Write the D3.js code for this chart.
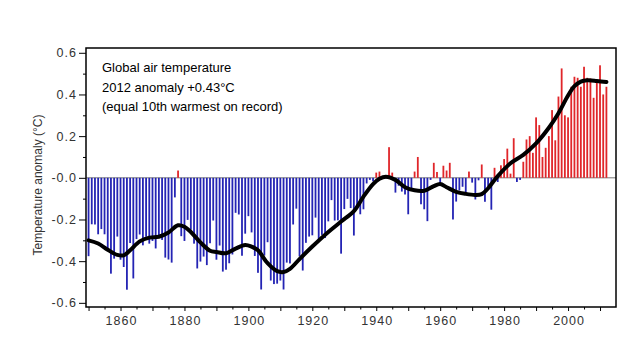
<!DOCTYPE html>
<html>
<head>
<meta charset="utf-8">
<script src="https://cdnjs.cloudflare.com/ajax/libs/d3/7.8.5/d3.min.js"></script>
<style>
  html, body { margin: 0; padding: 0; background: #fff; }
  svg { display: block; font-family: "Liberation Sans", Arial, sans-serif; }
</style>
</head>
<body>
<svg id="chart" width="630" height="337"></svg>
<script>
// annual anomalies, 1850 onwards (deg C)
var firstYear = 1850;
var anomalies = [
  -0.376, -0.223, -0.224, -0.271, -0.246, -0.271, -0.352, -0.460, -0.388, -0.282,
  -0.393, -0.428, -0.537, -0.313, -0.483, -0.294, -0.272, -0.324, -0.283, -0.316,
  -0.303, -0.339, -0.282, -0.298, -0.383, -0.392, -0.407, -0.094, 0.035, -0.280,
  -0.303, -0.202, -0.249, -0.316, -0.435, -0.402, -0.378, -0.419, -0.314, -0.205,
  -0.393, -0.325, -0.450, -0.441, -0.410, -0.368, -0.168, -0.176, -0.374, -0.268,
  -0.184, -0.262, -0.375, -0.456, -0.536, -0.373, -0.309, -0.493, -0.510, -0.508,
  -0.493, -0.536, -0.407, -0.411, -0.224, -0.148, -0.377, -0.445, -0.312, -0.282,
  -0.276, -0.191, -0.294, -0.274, -0.289, -0.209, -0.107, -0.205, -0.204, -0.364,
  -0.150, -0.101, -0.145, -0.277, -0.132, -0.175, -0.151, -0.027, -0.010, -0.017,
  0.025, 0.030, -0.004, -0.003, 0.147, 0.025, -0.071, -0.038, -0.066, -0.080,
  -0.175, -0.060, 0.030, 0.100, -0.127, -0.151, -0.208, -0.010, 0.072, 0.028,
  -0.025, 0.058, 0.035, 0.072, -0.200, -0.114, -0.061, -0.043, -0.072, 0.030,
  -0.023, -0.104, -0.012, 0.064, -0.115, -0.039, -0.153, 0.048, -0.020, 0.060,
  0.090, 0.140, 0.020, 0.190, -0.020, -0.010, 0.077, 0.184, 0.200, 0.120,
  0.290, 0.253, 0.100, 0.144, 0.200, 0.325, 0.180, 0.390, 0.525, 0.300,
  0.290, 0.437, 0.485, 0.480, 0.437, 0.533, 0.480, 0.477, 0.384, 0.460,
  0.540, 0.400, 0.437
];
var years = anomalies.map(function (d, i) { return firstYear + i; });

// smoothed curve
var smoothYears = [1850, 1853, 1856, 1859, 1861, 1863, 1866, 1869, 1872, 1875, 1878, 1880,
  1882, 1885, 1888, 1890, 1893, 1896, 1899, 1901, 1903, 1906, 1909, 1911, 1913, 1916,
  1920, 1925, 1929, 1933, 1936, 1939, 1941, 1943, 1946, 1949, 1952, 1955, 1958, 1960,
  1962, 1965, 1968, 1971, 1973, 1975, 1977, 1979, 1982, 1986, 1990, 1994, 1997,
  2000, 2002, 2004, 2006, 2009, 2012];
var smoothValues = [-0.30, -0.315, -0.345, -0.37, -0.372, -0.348, -0.305, -0.287, -0.283, -0.262, -0.228, -0.235,
  -0.26, -0.31, -0.35, -0.356, -0.362, -0.34, -0.322, -0.33, -0.348, -0.41, -0.448, -0.452, -0.437, -0.39,
  -0.33, -0.26, -0.21, -0.16, -0.09, -0.03, -0.005, 0.005, -0.01, -0.045, -0.06, -0.062, -0.04, -0.03,
  -0.045, -0.067, -0.077, -0.082, -0.078, -0.05, -0.01, 0.025, 0.07, 0.11, 0.165, 0.24, 0.31,
  0.395, 0.44, 0.462, 0.468, 0.465, 0.46];

var yTicks = [0.6, 0.4, 0.2, 0, -0.2, -0.4, -0.6];
var yTickLabels = ["0.6", "0.4", "0.2", "-0.0", "-0.2", "-0.4", "-0.6"];
var xTicks = [1860, 1880, 1900, 1920, 1940, 1960, 1980, 2000];

var titleLines = [
  "Global air temperature",
  "2012 anomaly +0.43\u00B0C",
  "(equal 10th warmest on record)"
];

var svg = d3.select("#chart");

var plotLeft = 86, plotRight = 616, plotTop = 48, plotBottom = 307;

var x = d3.scaleLinear()
  .domain([1849.2, 2015])
  .range([plotLeft, plotRight]);

var y = d3.scaleLinear()
  .domain([-0.62, 0.623])
  .range([plotBottom, plotTop]);

// zero line
svg.append("line")
  .attr("x1", plotLeft).attr("x2", plotRight)
  .attr("y1", y(0)).attr("y2", y(0))
  .attr("stroke", "#777")
  .attr("stroke-width", 1);

// bars
svg.append("g")
  .selectAll("rect")
  .data(anomalies)
  .join("rect")
  .attr("x", function (d, i) { return x(years[i]) - 0.9; })
  .attr("width", 1.8)
  .attr("y", function (d) { return d > 0 ? y(d) : y(0); })
  .attr("height", function (d) { return Math.abs(y(d) - y(0)); })
  .attr("fill", function (d) { return d > 0 ? "#e0262a" : "#2424b4"; });

// smoothed line
var smoothLine = d3.line()
  .x(function (d, i) { return x(smoothYears[i]); })
  .y(function (d) { return y(d); })
  .curve(d3.curveCatmullRom.alpha(0.5));

svg.append("path")
  .datum(smoothValues)
  .attr("d", smoothLine)
  .attr("fill", "none")
  .attr("stroke", "#000")
  .attr("stroke-width", 4)
  .attr("stroke-linecap", "round")
  .attr("stroke-linejoin", "round");

// frame
svg.append("rect")
  .attr("x", plotLeft).attr("y", plotTop)
  .attr("width", plotRight - plotLeft).attr("height", plotBottom - plotTop)
  .attr("fill", "none")
  .attr("stroke", "#000")
  .attr("stroke-width", 1.5);

function styleLabels(g) {
  g.selectAll("text")
    .attr("font-size", 12.5)
    .attr("letter-spacing", 1)
    .attr("fill", "#333")
    .attr("font-family", "Liberation Sans, Arial, sans-serif");
}

// y axis
var yAxis = d3.axisLeft(y)
  .tickValues(yTicks)
  .tickSize(7)
  .tickPadding(2)
  .tickFormat(function (d, i) { return yTickLabels[i]; });

var yMinor = d3.axisLeft(y)
  .tickValues([0.5, 0.3, 0.1, -0.1, -0.3, -0.5])
  .tickSize(3)
  .tickFormat("");

svg.append("g")
  .attr("transform", "translate(" + plotLeft + ",0)")
  .call(yMinor)
  .call(function (g) { g.select(".domain").remove(); });

svg.append("g")
  .attr("transform", "translate(" + plotLeft + ",0)")
  .call(yAxis)
  .call(function (g) { g.select(".domain").remove(); })
  .call(styleLabels);

// x axis
var xAxis = d3.axisBottom(x)
  .tickValues(xTicks)
  .tickSize(4)
  .tickPadding(5)
  .tickFormat(d3.format("d"));

var xMinor = d3.axisBottom(x)
  .tickValues([1855, 1865, 1875, 1885, 1895, 1905, 1915, 1925, 1935, 1945, 1955, 1965, 1975, 1985, 1995, 2005])
  .tickSize(2.5)
  .tickFormat("");

var xMid = d3.axisBottom(x)
  .tickValues([1850, 1870, 1890, 1910, 1930, 1950, 1970, 1990, 2010])
  .tickSize(4)
  .tickFormat("");

[xMinor, xMid].forEach(function (ax) {
  svg.append("g")
    .attr("transform", "translate(0," + plotBottom + ")")
    .call(ax)
    .call(function (g) { g.select(".domain").remove(); });
});

svg.append("g")
  .attr("transform", "translate(0," + plotBottom + ")")
  .call(xAxis)
  .call(function (g) { g.select(".domain").remove(); })
  .call(styleLabels)
  .call(function (g) { g.selectAll("text").attr("dx", 0.5); });

// axis title
svg.append("text")
  .attr("transform", "translate(42,185) rotate(-90)")
  .attr("text-anchor", "middle")
  .attr("font-size", 12)
  .attr("fill", "#333")
  .text("Temperature anomaly (\u00B0C)");

// annotation
svg.append("g")
  .selectAll("text")
  .data(titleLines)
  .join("text")
  .attr("x", 102)
  .attr("y", function (d, i) { return 72 + i * 19.5; })
  .attr("font-size", 13)
  .attr("fill", "#000")
  .text(function (d) { return d; });
</script>
</body>
</html>
